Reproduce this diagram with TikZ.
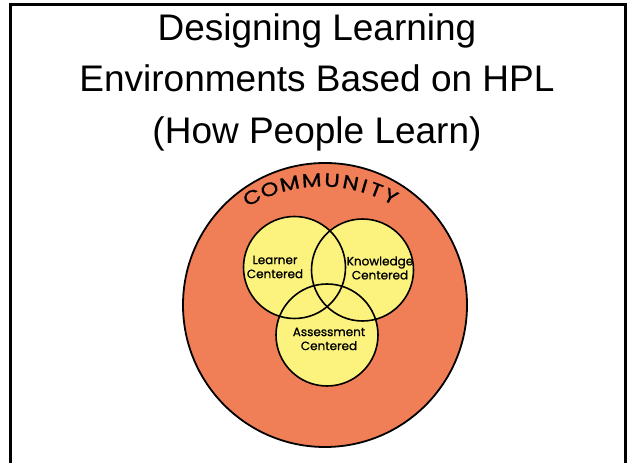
\documentclass[tikz,border=0pt]{standalone}
\usepackage{fontspec}
\setmainfont{Liberation Sans}
\newfontfamily\handfont[FakeBold=1]{Poppins}
\newfontfamily\widefont[FakeBold=1, FakeStretch=1.2]{Poppins}

\definecolor{community}{RGB}{240,127,88}
\definecolor{centred}{RGB}{251,243,126}

\tikzset{
  heading/.style={anchor=base, inner sep=0, font=\fontsize{37}{44}\selectfont},
  centre/.style={circle, fill=centred, minimum size={2*\r}, inner sep=0},
  venntext/.style={align=center, inner sep=0,
    font=\handfont\fontsize{12}{14}\selectfont},
  letter/.style={inner sep=0, font=\widefont\fontsize{19}{19}\selectfont}
}

\begin{document}
\begin{tikzpicture}[x=1pt, y=1pt]

  \def\R{142}  % community radius
  \def\r{51}   % radius of each centre

  \useasboundingbox (0,0) rectangle (629,463);

  % frame, open at the bottom
  \draw[line width=3pt] (10.5,-5) -- (10.5,458.5) -- (625,458.5) -- (625,-5);

  % ----------------------------------------------------------------
  % Title
  % ----------------------------------------------------------------
  \node[heading] (t1) at (317,422.5) {Designing Learning};
  \node[heading] (t2) at (317,371)   {Environments Based on HPL};
  \node[heading] (t3) at (317,319.5) {(How People Learn)};

  % ----------------------------------------------------------------
  % Community and the three centres
  % ----------------------------------------------------------------
  \node[circle, draw, line width=1.8pt, fill=community,
        minimum size={2*\R}, inner sep=0] (community) at (325,158) {};

  % COMMUNITY, one letter at a time round an arc of radius 152
  \coordinate (arc) at (322,131);
  \foreach \a/\l [count=\i] in {117.4/C, 110.2/O, 102.3/M, 93.9/M, 86.2/U,
                                79.1/N, 73.8/I, 69.1/T, 63.1/Y}
    \path (arc) ++(\a:152) node[letter, rotate=\a-90] (c\i) {\l};

  \node[centre] (learner)    at (294.5,195.5) {};
  \node[centre] (knowledge)  at (362.5,193)   {};
  \node[centre] (assessment) at (327,128)     {};

  % outlines on top, so that all three stay visible
  \foreach \n in {learner,knowledge,assessment}
    \draw[line width=1.6pt] (\n.center) circle[radius=\r];

  \node[venntext] (learnertxt)    at (275,196) {Learner\\Centered};
  \node[venntext] (knowledgetxt)  at (380,195) {Knowledge\\Centered};
  \node[venntext] (assessmenttxt) at (329,124) {Assessment\\Centered};

\end{tikzpicture}
\end{document}
